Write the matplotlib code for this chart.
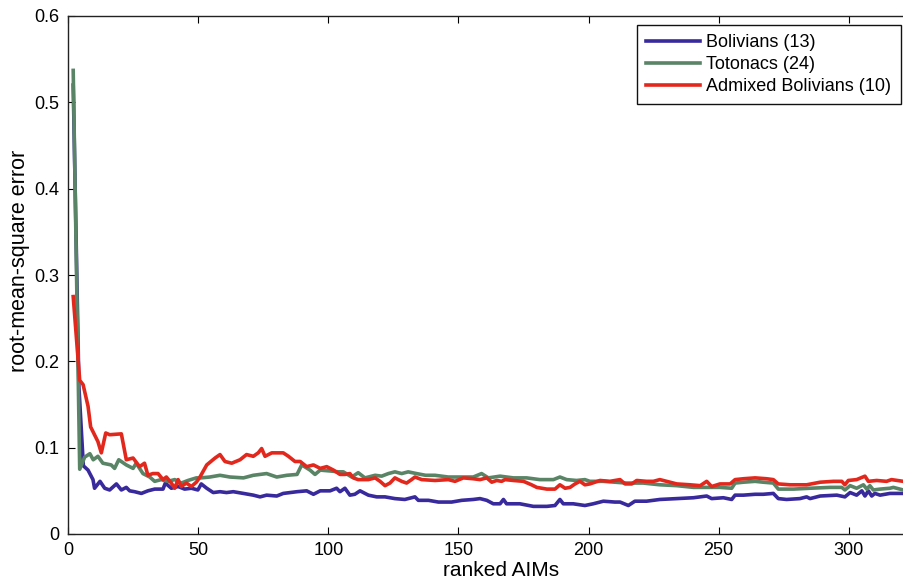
import numpy as np
import matplotlib
matplotlib.use("Agg")
import matplotlib.pyplot as plt

plt.rcParams['font.family'] = ['Liberation Sans', 'DejaVu Sans']

# ---- data (ranked AIMs vs RMSE) ----
bol_x = [2, 4.2, 5.9, 7.7, 9.6, 10.2, 12.3, 14.1, 16, 18.6, 20.5, 22.4, 23.7, 25.6,
         28.2, 30.7, 33.3, 36.5, 37.4, 39.7, 42.3, 44.8, 47.4, 49.9, 51.2, 53.3, 55.8,
         58.4, 60.9, 63.5, 67.4, 71.2, 73.8, 76.3, 80.2, 82.7, 88, 91.7, 94.3, 96.9,
         100.7, 103.2, 104.5, 106.4, 108.3, 110.2, 112.2, 115.4, 118.6, 121.8, 125.6,
         129.4, 133.3, 134.6, 138.5, 142.3, 147.4, 151.3, 155.7, 158.3, 160.9, 163.4,
         166, 167.3, 168.5, 173.6, 178.8, 184, 187.1, 189, 190.3, 194.1, 198.6, 201.8,
         205.7, 210.1, 212.1, 215.3, 217.8, 222.3, 227.4, 233.9, 240.3, 245.4, 247.3,
         251.8, 255, 256.3, 259.5, 264, 267.1, 271, 272.9, 276.1, 281.2, 283.8, 285.1,
         289, 295.4, 298.5, 300.5, 303, 305, 306.2, 307.5, 308.8, 310, 312, 315.8, 320.9]
bol_y = [0.52, 0.17, 0.079, 0.074, 0.063, 0.053, 0.061, 0.053, 0.051, 0.058, 0.051,
         0.054, 0.050, 0.049, 0.047, 0.050, 0.052, 0.052, 0.059, 0.053, 0.055, 0.052,
         0.053, 0.051, 0.058, 0.053, 0.048, 0.049, 0.048, 0.049, 0.047, 0.045, 0.043,
         0.045, 0.044, 0.047, 0.049, 0.050, 0.046, 0.050, 0.050, 0.053, 0.049, 0.053,
         0.045, 0.046, 0.050, 0.045, 0.043, 0.043, 0.041, 0.040, 0.043, 0.039, 0.039,
         0.037, 0.037, 0.039, 0.040, 0.041, 0.039, 0.035, 0.035, 0.040, 0.035, 0.035,
         0.032, 0.032, 0.033, 0.040, 0.035, 0.035, 0.033, 0.035, 0.038, 0.037, 0.037,
         0.033, 0.038, 0.038, 0.040, 0.041, 0.042, 0.044, 0.041, 0.042, 0.040, 0.045,
         0.045, 0.046, 0.046, 0.047, 0.041, 0.040, 0.041, 0.043, 0.041, 0.044, 0.045,
         0.043, 0.048, 0.045, 0.050, 0.044, 0.050, 0.044, 0.047, 0.045, 0.047, 0.047]

tot_x = [2, 4.5, 6.4, 8.4, 9.7, 11.5, 13.4, 16.6, 17.9, 19.5, 22.4, 25, 26.2, 28.8, 31.4,
         33.3, 35.8, 38.4, 41, 43.5, 46.1, 49.3, 51, 54.5, 58.4, 62.2, 67.4, 71.2, 76.3,
         80.2, 84.1, 88, 89.8, 93, 94.9, 96.9, 100.7, 103.9, 105.8, 109, 111.5, 114.1,
         118, 120.5, 123.1, 125.6, 128.2, 130.7, 133.9, 137.4, 141, 146.1, 151.3, 155.7,
         158.9, 161.5, 166, 171.1, 176.2, 181.3, 186.5, 189, 191.6, 195.4, 198.6, 200.5,
         205.7, 210.1, 214.6, 221, 227.4, 233.9, 240.3, 246.7, 250.5, 255, 256.3, 259.5,
         264, 267.1, 271, 272.9, 278.7, 285.1, 292.8, 297.3, 298.5, 300.5, 303, 305.6,
         306.9, 308.1, 309.4, 312, 315.8, 317.1, 320.9]
tot_y = [0.537, 0.075, 0.089, 0.093, 0.086, 0.090, 0.082, 0.080, 0.076, 0.086, 0.080,
         0.076, 0.082, 0.070, 0.066, 0.061, 0.063, 0.061, 0.063, 0.059, 0.062, 0.065,
         0.065, 0.066, 0.068, 0.066, 0.065, 0.068, 0.070, 0.066, 0.068, 0.069, 0.080,
         0.074, 0.069, 0.074, 0.073, 0.072, 0.072, 0.066, 0.071, 0.065, 0.068, 0.067,
         0.070, 0.072, 0.070, 0.072, 0.070, 0.068, 0.068, 0.066, 0.066, 0.066, 0.070,
         0.065, 0.067, 0.065, 0.065, 0.063, 0.063, 0.066, 0.063, 0.062, 0.063, 0.061,
         0.061, 0.060, 0.059, 0.059, 0.057, 0.056, 0.054, 0.054, 0.054, 0.053, 0.059,
         0.060, 0.061, 0.060, 0.059, 0.052, 0.052, 0.053, 0.054, 0.054, 0.051, 0.056,
         0.053, 0.057, 0.052, 0.056, 0.051, 0.052, 0.053, 0.054, 0.051]

adm_x = [2, 4.5, 5.8, 7.7, 8.7, 11.5, 12.8, 14.5, 16, 20.5, 22.4, 25, 27.5, 29.4, 30.7,
         32.6, 34.6, 36.5, 37.8, 39.7, 41, 42.3, 43.5, 45.5, 47.4, 49.3, 50.7, 53.3, 56.5,
         58.4, 60.3, 62.9, 66.1, 68.6, 71.2, 73.1, 74.4, 75.7, 78.3, 82.7, 84.7, 87.2,
         89.2, 91.7, 94.3, 96.9, 99.4, 102, 104.5, 106.4, 108.3, 109.6, 111.5, 115.4,
         118, 119.9, 121.8, 123.7, 125.6, 128.2, 130.1, 132, 133.3, 135.9, 141, 146.1,
         148.7, 151.9, 155.7, 158.3, 160.9, 162.8, 164.7, 166.6, 167.9, 171.1, 175,
         178.1, 180.1, 184, 187.1, 189, 191, 192.9, 194.8, 196.7, 198.6, 200.5, 204.4,
         208.2, 212.1, 214, 216.6, 218.5, 222.3, 224.9, 227.4, 230, 233.9, 239, 242.9,
         245.4, 247.3, 250.5, 254.4, 256.3, 259.5, 264, 268.4, 271, 272.9, 277.4, 283.8,
         289, 294.1, 297.3, 298.5, 299.8, 303, 306.2, 307.5, 310.7, 314.5, 316.4, 320.9]
adm_y = [0.275, 0.178, 0.173, 0.148, 0.124, 0.107, 0.094, 0.117, 0.115, 0.116, 0.086,
         0.088, 0.078, 0.082, 0.068, 0.070, 0.070, 0.063, 0.066, 0.059, 0.053, 0.063,
         0.055, 0.059, 0.055, 0.060, 0.066, 0.080, 0.088, 0.092, 0.084, 0.082, 0.086,
         0.092, 0.090, 0.094, 0.099, 0.090, 0.094, 0.094, 0.090, 0.084, 0.084, 0.078,
         0.080, 0.076, 0.078, 0.074, 0.069, 0.069, 0.070, 0.065, 0.063, 0.063, 0.065,
         0.061, 0.056, 0.059, 0.065, 0.061, 0.059, 0.063, 0.066, 0.063, 0.062, 0.063,
         0.061, 0.065, 0.064, 0.063, 0.065, 0.060, 0.062, 0.061, 0.063, 0.062, 0.061,
         0.057, 0.054, 0.052, 0.052, 0.057, 0.053, 0.054, 0.058, 0.061, 0.057, 0.058,
         0.062, 0.061, 0.063, 0.058, 0.058, 0.062, 0.061, 0.061, 0.063, 0.061, 0.058,
         0.057, 0.056, 0.061, 0.055, 0.058, 0.058, 0.063, 0.064, 0.065, 0.064, 0.063,
         0.058, 0.057, 0.057, 0.060, 0.061, 0.061, 0.057, 0.062, 0.063, 0.067, 0.061,
         0.062, 0.061, 0.063, 0.061]

labels = ['Bolivians (13)', 'Totonacs (24)', 'Admixed Bolivians (10)']
colors = ['#38299c', '#5a8466', '#e2281d']

xticks = [0, 50, 100, 150, 200, 250, 300]
yticks = [0, 0.1, 0.2, 0.3, 0.4, 0.5, 0.6]
ytick_labels = ['0', '0.1', '0.2', '0.3', '0.4', '0.5', '0.6']

# ---- figure ----
fig = plt.figure(figsize=(9.04, 5.83), dpi=100)
ax = fig.add_axes([68 / 904, 49 / 583, 836 / 904, 518 / 583])

for xs, ys, lab, col in zip([bol_x, tot_x, adm_x], [bol_y, tot_y, adm_y], labels, colors):
    ax.plot(xs, ys, color=col, linewidth=2.6, label=lab, solid_joinstyle='round')

ax.set_xlim(0, 321.2)
ax.set_ylim(0, 0.6)
ax.set_xticks(xticks)
ax.set_yticks(yticks)
ax.set_yticklabels(ytick_labels)

ax.spines['right'].set_visible(False)
for s in ['left', 'bottom', 'top']:
    ax.spines[s].set_linewidth(1.0)
    ax.spines[s].set_color('#222222')

ax.tick_params(axis='x', direction='in', top=True, length=5, width=0.8,
               labelsize=13, pad=6)
ax.tick_params(axis='y', direction='in', right=False, length=5, width=0.8,
               labelsize=13, pad=6)

ax.set_xlabel('ranked AIMs', fontsize=15)
ax.set_ylabel('root-mean-square error', fontsize=15.5)
ax.xaxis.set_label_coords(0.518, -0.052)
ax.yaxis.set_label_coords(-0.046, 0.527)

leg = ax.legend(loc='upper left', bbox_to_anchor=(0.6806, 0.9826), borderaxespad=0,
                fontsize=13, handlelength=3.0, handletextpad=0.35, labelspacing=0.28,
                borderpad=0.5, fancybox=False, framealpha=1.0)
leg.get_frame().set_edgecolor('#111111')
leg.get_frame().set_linewidth(1.0)

fig.savefig('out.png', dpi=100)
